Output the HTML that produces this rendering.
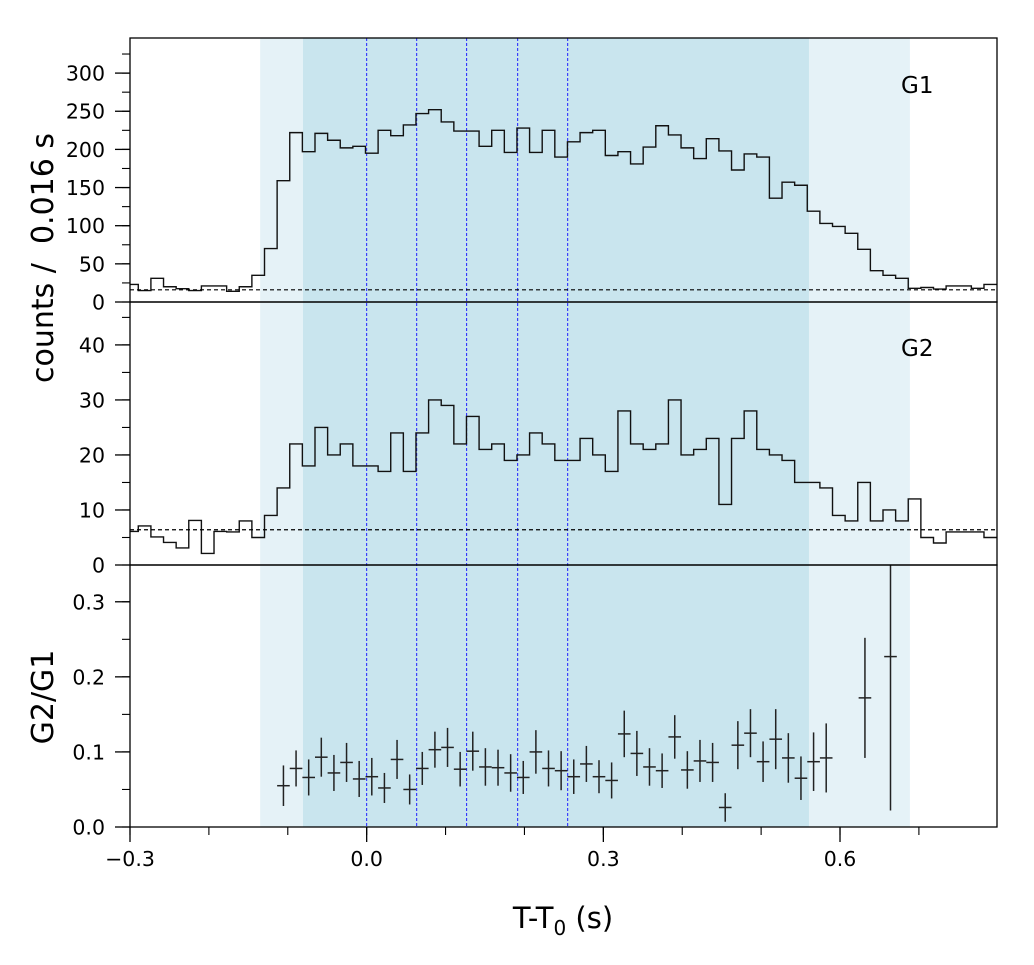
<!DOCTYPE html>
<html><head><meta charset="utf-8"><style>
body{margin:0;background:#fff}
svg{display:block;font-family:"DejaVu Sans","Liberation Sans",sans-serif}
</style></head><body>
<svg id="chart" width="1034" height="965" viewBox="0 0 1034 965" xmlns="http://www.w3.org/2000/svg"></svg>
<script>
const g1Counts=[23,15,31,20,17.5,15,21,21,14,20,35,70,159,222,197,221,212,202,204,195,225,218,232,247,252,236,224,224,204,225,196,228,196,225,190,210,222,225,192,197,181,203,231,219,202,188,214,198,173,194,190,136,157,153,119,103,99,90,69,41,35,31,18,19,17,21,21,18,23];
const g2Counts=[6.1,7.1,5.1,4.1,3.1,8.1,2.1,6.1,6,8,5,9,14,22,18,25,20,22,18,18,17,24,17,24,30,29,22,27,21,22,19,20,24,22,19,19,23,20,17,28,22,21,22,30,20,21,23,11,23,28,21,20,19,15,15,14,9,8,15,8,10,8,12,5,4,6,6,6,5];
const ratioBins=[12,13,14,15,16,17,18,19,20,21,22,23,24,25,26,27,28,29,30,31,32,33,34,35,36,37,38,39,40,41,42,43,44,45,46,47,48,49,50,51,52,53,54,55];
const ratioVals=[0.055,0.078,0.066,0.093,0.072,0.086,0.064,0.067,0.052,0.090,0.050,0.078,0.103,0.106,0.077,0.101,0.080,0.079,0.072,0.066,0.100,0.078,0.075,0.067,0.084,0.067,0.062,0.124,0.098,0.080,0.075,0.120,0.076,0.088,0.086,0.026,0.109,0.125,0.087,0.117,0.092,0.065,0.087,0.092];
const ratioErrs=[0.027,0.024,0.024,0.026,0.024,0.026,0.024,0.025,0.020,0.026,0.020,0.022,0.024,0.026,0.023,0.026,0.025,0.024,0.025,0.022,0.029,0.024,0.026,0.023,0.024,0.022,0.024,0.031,0.030,0.025,0.023,0.029,0.025,0.028,0.026,0.019,0.032,0.032,0.027,0.040,0.033,0.029,0.039,0.046];
const wideT=[0.6316,0.664];
const wideVals=[0.172,0.227];
const wideLo=[0.08,0.205];
const wideHi=[0.08,0.25];
const g1Bkg=16, g2Bkg=6.4;
const xTicks=[-0.3,0.0,0.3,0.6];
const xTickLabels=["\u22120.3","0.0","0.3","0.6"];
const g1Ticks=[0,50,100,150,200,250,300];
const g2Ticks=[0,10,20,30,40];
const rTicks=[0.0,0.1,0.2,0.3];
const rTickLabels=["0.0","0.1","0.2","0.3"];
const vLines=[0,0.0634,0.1267,0.1914,0.2548];
const outerBand=[-0.135,0.6886], innerBand=[-0.0807,0.5606];
const binStart=-0.2895, binW=0.016, tMin=-0.3, tMax=0.799;

const NS="http://www.w3.org/2000/svg";
const svg=document.getElementById('chart');
const L=130,R=997;
const X=t=>L+(t-tMin)/(tMax-tMin)*(R-L);
const panels=[{top:38,bot:302,max:346},{top:302,bot:565,max:47.8},{top:565,bot:827,max:0.349}];
const Y=(p,v)=>p.bot-v/p.max*(p.bot-p.top);
function el(tag,attrs,parent){const e=document.createElementNS(NS,tag);for(const k in attrs)e.setAttribute(k,attrs[k]);(parent||svg).appendChild(e);return e;}
function edge(k){return k===0?tMin:binStart+binW*(k-1);}
function edgeR(k){return Math.min(tMax,binStart+binW*k);}

let b=el('rect',{x:X(outerBand[0]),y:38,width:X(outerBand[1])-X(outerBand[0]),height:789,fill:'#e5f2f7'});

b=el('rect',{x:X(innerBand[0]),y:38,width:X(innerBand[1])-X(innerBand[0]),height:789,fill:'#c9e5ee'});

vLines.forEach((t,i)=>{const l=el('line',{x1:X(t),x2:X(t),y1:38,y2:827,stroke:'#1f1fff','stroke-width':1,'stroke-dasharray':'3,2'});
});

function hist(counts,p,name){let d='';counts.forEach((c,k)=>{const y=Y(p,c);d+=(k===0?'M':'L')+X(edge(k))+','+y+'L'+X(edgeR(k))+','+y;});
const h=el('path',{d:d,fill:'none',stroke:'#111','stroke-width':1.4});}
hist(g1Counts,panels[0],'g1-histogram');hist(g2Counts,panels[1],'g2-histogram');
let bl=el('line',{x1:L,x2:R,y1:Y(panels[0],g1Bkg),y2:Y(panels[0],g1Bkg),stroke:'#000','stroke-width':1.2,'stroke-dasharray':'4,3'});

bl=el('line',{x1:L,x2:R,y1:Y(panels[1],g2Bkg),y2:Y(panels[1],g2Bkg),stroke:'#000','stroke-width':1.2,'stroke-dasharray':'4,3'});


const p3=panels[2];
ratioBins.forEach((k,i)=>{const g=el('g',{stroke:'#222','stroke-width':1.5});

const xc=X(binStart+binW*(k-1)+binW/2);
el('line',{x1:X(edge(k)),x2:X(edgeR(k)),y1:Y(p3,ratioVals[i]),y2:Y(p3,ratioVals[i])},g);
el('line',{x1:xc,x2:xc,y1:Y(p3,ratioVals[i]+ratioErrs[i]),y2:Y(p3,ratioVals[i]-ratioErrs[i])},g);});
wideT.forEach((t,i)=>{const g=el('g',{stroke:'#222','stroke-width':1.5});

el('line',{x1:X(t-0.008),x2:X(t+0.008),y1:Y(p3,wideVals[i]),y2:Y(p3,wideVals[i])},g);
el('line',{x1:X(t),x2:X(t),y1:Math.max(565,Y(p3,wideVals[i]+wideHi[i])),y2:Y(p3,wideVals[i]-wideLo[i])},g);});

panels.forEach((p,i)=>{const f=el('rect',{x:L,y:p.top,width:R-L,height:p.bot-p.top,fill:'none',stroke:'#000','stroke-width':1.3});
});
function yAxis(p,ticks,labels,minorStep,name){const g=el('g',{});
for(let v=0;v<=p.max+1e-9;v+=minorStep){el('line',{x1:L-8,x2:L,y1:Y(p,v),y2:Y(p,v),stroke:'#000','stroke-width':1.1},g);}
ticks.forEach((v,i)=>{const y=Y(p,v);el('line',{x1:L-15,x2:L,y1:y,y2:y,stroke:'#000','stroke-width':1.3},g);
const t=el('text',{x:L-25,y:y+7.5,'text-anchor':'end','font-size':20.5,fill:'#000'},g);t.textContent=labels?labels[i]:String(v);});}
yAxis(panels[0],g1Ticks,null,25,'g1-y-axis');yAxis(panels[1],g2Ticks,null,5,'g2-y-axis');yAxis(panels[2],rTicks,rTickLabels,0.05,'ratio-y-axis');
const xg=el('g',{});
for(let t=-0.3;t<=tMax+1e-9;t+=0.1){el('line',{x1:X(t),x2:X(t),y1:827,y2:835,stroke:'#000','stroke-width':1.1},xg);}
xTicks.forEach((t,i)=>{el('line',{x1:X(t),x2:X(t),y1:827,y2:842,stroke:'#000','stroke-width':1.3},xg);
const tx=el('text',{x:X(t),y:866,'text-anchor':'middle','font-size':20.5,fill:'#000'},xg);tx.textContent=xTickLabels[i];});
</script>
<svg width="1034" height="965" style="position:absolute;left:0;top:0" xmlns="http://www.w3.org/2000/svg" font-family="DejaVu Sans, Liberation Sans, sans-serif">
<text x="901" y="93" font-size="23">G1</text>
<text x="901" y="356" font-size="23">G2</text>
<text transform="translate(53,258) rotate(-90)" text-anchor="middle" font-size="30" xml:space="preserve">counts /  0.016 s</text>
<text transform="translate(53,697) rotate(-90)" text-anchor="middle" font-size="30">G2/G1</text>
<text x="563" y="928" text-anchor="middle" font-size="29">T-T<tspan font-size="20" dy="7">0</tspan><tspan dy="-7"> (s)</tspan></text>
</svg>
</body></html>
